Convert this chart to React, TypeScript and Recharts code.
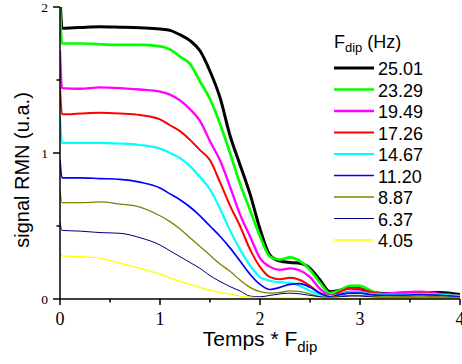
import { LineChart, Line, XAxis, YAxis } from "recharts";

// Temps * F_dip
const tValues = [
  0, 0.02, 0.2, 0.4, 0.6, 0.8, 1.0, 1.1, 1.2, 1.3, 1.4, 1.5, 1.6, 1.7, 1.8, 1.9,
  2.0, 2.1, 2.2, 2.3, 2.4, 2.5, 2.6, 2.7, 2.8, 2.9, 3.0, 3.1, 3.2, 3.4, 3.6, 3.8, 4.0,
];

// signal RMN (u.a.) for each F_dip (Hz)
const f2501 = [
  2.1, 1.855, 1.86, 1.865, 1.862, 1.858, 1.85, 1.84, 1.81, 1.77, 1.7, 1.56, 1.38, 1.12, 0.92, 0.72,
  0.48, 0.3, 0.26, 0.25, 0.245, 0.21, 0.13, 0.05, 0.06, 0.075, 0.07, 0.05, 0.04, 0.035, 0.04, 0.045, 0.03,
];
const f2329 = [
  2.0, 1.75, 1.75, 1.745, 1.74, 1.74, 1.73, 1.71, 1.66, 1.61, 1.49, 1.37, 1.2, 1.0, 0.79, 0.61,
  0.43, 0.29, 0.27, 0.285, 0.26, 0.2, 0.11, 0.04, 0.06, 0.09, 0.09, 0.06, 0.035, 0.025, 0.03, 0.03, 0.02,
];
const f1949 = [
  1.7, 1.445, 1.44, 1.45, 1.445, 1.435, 1.42, 1.4, 1.36, 1.3, 1.22, 1.08, 0.95, 0.77, 0.58, 0.43,
  0.28, 0.22, 0.2, 0.21, 0.195, 0.15, 0.07, 0.025, 0.035, 0.05, 0.05, 0.04, 0.035, 0.045, 0.05, 0.035, 0.02,
];
const f1726 = [
  1.45, 1.265, 1.27, 1.275, 1.27, 1.26, 1.23, 1.19, 1.15, 1.09, 1.02, 0.95, 0.8, 0.64, 0.5, 0.34,
  0.22, 0.15, 0.135, 0.145, 0.13, 0.09, 0.04, 0.02, 0.05, 0.075, 0.07, 0.05, 0.035, 0.03, 0.04, 0.035, 0.02,
];
const f1467 = [
  1.25, 1.07, 1.07, 1.07, 1.065, 1.055, 1.03, 1.0, 0.965, 0.91, 0.835, 0.75, 0.62, 0.47, 0.34, 0.23,
  0.15, 0.125, 0.115, 0.11, 0.09, 0.055, 0.03, 0.02, 0.03, 0.045, 0.045, 0.035, 0.03, 0.03, 0.035, 0.03, 0.02,
];
const f1120 = [
  0.95, 0.83, 0.83, 0.825, 0.82, 0.8, 0.76, 0.72, 0.68, 0.63, 0.57, 0.5, 0.43, 0.35, 0.26, 0.17,
  0.1, 0.065, 0.08, 0.1, 0.105, 0.08, 0.04, 0.015, 0.03, 0.04, 0.04, 0.03, 0.025, 0.025, 0.03, 0.025, 0.015,
];
const f887 = [
  0.75, 0.66, 0.66, 0.665, 0.65, 0.63, 0.57, 0.53, 0.48, 0.42, 0.36, 0.3, 0.24, 0.19, 0.13, 0.08,
  0.05, 0.04, 0.045, 0.055, 0.05, 0.035, 0.015, 0.01, 0.02, 0.025, 0.025, 0.02, 0.015, 0.015, 0.02, 0.015, 0.01,
];
const f637 = [
  0.53, 0.47, 0.465, 0.455, 0.45, 0.42, 0.37, 0.33, 0.29, 0.25, 0.21, 0.16, 0.12, 0.085, 0.055, 0.02,
  0.015, 0.025, 0.035, 0.04, 0.035, 0.025, 0.015, 0.01, 0.015, 0.02, 0.02, 0.015, 0.01, 0.01, 0.01, 0.01, 0.01,
];
const f405 = [
  0.33, 0.295, 0.29, 0.28, 0.245, 0.21, 0.17, 0.145, 0.12, 0.1, 0.08, 0.06, 0.045, 0.033, 0.02, 0.012,
  0.008, 0.006, 0.005, 0.005, 0.005, 0.005, 0.005, 0.005, 0.005, 0.005, 0.005, 0.005, 0.005, 0.005, 0.005, 0.005, 0.005,
];

const legendLabels = ["25.01", "23.29", "19.49", "17.26", "14.67", "11.20", "8.87", "6.37", "4.05"];
const xTicks = [0, 0.5, 1, 1.5, 2, 2.5, 3, 3.5, 4];
const yTicks = [0, 0.5, 1, 1.5, 2];

const series = [
  { key: "f2501", values: f2501, color: "#000000", width: 3 },
  { key: "f2329", values: f2329, color: "#00ff00", width: 2.7 },
  { key: "f1949", values: f1949, color: "#ff00ff", width: 2.3 },
  { key: "f1726", values: f1726, color: "#ff0000", width: 2 },
  { key: "f1467", values: f1467, color: "#00ffff", width: 2.2 },
  { key: "f1120", values: f1120, color: "#0000ff", width: 1.7 },
  { key: "f887", values: f887, color: "#808000", width: 1.3 },
  { key: "f637", values: f637, color: "#000080", width: 1 },
  { key: "f405", values: f405, color: "#ffff00", width: 1.3 },
];

const data = tValues.map((t, i) => {
  const row: any = { t };
  series.forEach((s) => (row[s.key] = s.values[i]));
  return row;
});

const SANS = "'Liberation Sans', Arial, sans-serif";
const SERIF = "'Liberation Serif', 'Times New Roman', serif";

const XTick = ({ x, y, payload }: any) => {
  const major = Number.isInteger(payload.value);
  return (
    <g>
      <line x1={x} y1={y} x2={x} y2={y + (major ? 6 : 3.5)} stroke="#000" strokeWidth={1.5} />
      {major && (
        <text x={x} y={y + 26} textAnchor="middle" fontFamily={SERIF} fontSize={18} fill="#000">
          {payload.value}
        </text>
      )}
    </g>
  );
};

const YTick = ({ x, y, payload }: any) => {
  const major = Number.isInteger(payload.value);
  return (
    <g>
      <line x1={x} y1={y} x2={x - (major ? 7 : 3.5)} y2={y} stroke="#000" strokeWidth={1.5} />
      {major && (
        <text x={x - 15.5} y={y + 4.5} textAnchor="middle" fontFamily={SERIF} fontSize={13.5} fill="#000">
          {payload.value}
        </text>
      )}
    </g>
  );
};

const XTitle = ({ viewBox }: any) => (
  <text x={viewBox.x + viewBox.width / 2} y={346} textAnchor="middle" fontFamily={SANS} fontSize={21} fill="#000">
    <tspan>Temps * F</tspan>
    <tspan fontSize={15} dy={6}>dip</tspan>
  </text>
);

const YTitle = () => (
  <text x={29} y={170} transform="rotate(-90, 29, 170)" textAnchor="middle" fontFamily={SANS} fontSize={20} fill="#000">
    signal RMN (u.a.)
  </text>
);

const LegendBox = () => (
  <svg width={462} height={364} style={{ position: "absolute", left: 0, top: 0, pointerEvents: "none" }}>
    <text x={334} y={48} fontFamily={SANS} fontSize={18} fill="#000">
      <tspan>F</tspan>
      <tspan fontSize={13} dy={4}>dip</tspan>
      <tspan dy={-4}> (Hz)</tspan>
    </text>
    {series.map((s, i) => {
      const ly = 68 + i * 21.5;
      return (
        <g key={s.key}>
          <line x1={334} y1={ly} x2={374} y2={ly} stroke={s.color} strokeWidth={s.width} />
          <text x={378} y={ly + 7} fontFamily={SANS} fontSize={18} fill="#000">
            {legendLabels[i]}
          </text>
        </g>
      );
    })}
  </svg>
);

export default function App() {
  return (
    <div style={{ position: "relative", width: 462, height: 364, background: "#fff" }}>
      <style>{"body{margin:0}"}</style>
      <LineChart width={462} height={364} data={data} margin={{ top: 7, right: 2, bottom: 0, left: 0 }}>
        <XAxis
          dataKey="t"
          type="number"
          domain={[0, 4]}
          ticks={xTicks}
          interval={0}
          height={65}
          tickSize={0}
          tickMargin={0}
          tickLine={false}
          tick={(p: any) => <XTick {...p} />}
          axisLine={{ stroke: "#000", strokeWidth: 1.5 }}
          label={<XTitle />}
          allowDataOverflow
        />
        <YAxis
          type="number"
          domain={[0, 2]}
          ticks={yTicks}
          interval={0}
          width={60}
          tickSize={0}
          tickMargin={0}
          tickLine={false}
          tick={(p: any) => <YTick {...p} />}
          axisLine={{ stroke: "#000", strokeWidth: 1.5 }}
          label={<YTitle />}
          allowDataOverflow
        />
        {series.map((s) => (
          <Line
            key={s.key}
            dataKey={s.key}
            type="monotone"
            stroke={s.color}
            strokeWidth={s.width}
            dot={false}
            activeDot={false}
            isAnimationActive={false}
          />
        ))}
      </LineChart>
      <LegendBox />
    </div>
  );
}
